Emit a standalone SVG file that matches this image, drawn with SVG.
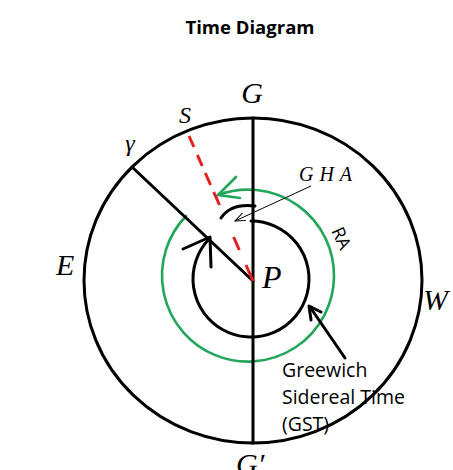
<svg xmlns="http://www.w3.org/2000/svg" width="453" height="470" viewBox="0 0 453 470">
<style>
.serif{font-family:"Liberation Serif","Times New Roman",serif;font-style:italic;fill:#000}
.sans{font-family:"Open Sans","Liberation Sans",sans-serif;fill:#000}
.blk{fill:none;stroke:#000;stroke-width:3;stroke-linecap:round;stroke-linejoin:round}
.grn{fill:none;stroke:#22a65a;stroke-width:2.6;stroke-linecap:round;stroke-linejoin:round}
.red{fill:none;stroke:#e3201c;stroke-width:3}
</style>
<defs>
<marker id="thin" markerUnits="userSpaceOnUse" markerWidth="12" markerHeight="10" refX="10" refY="4" orient="auto">
<path d="M0,0 L10,4 L0,8" fill="none" stroke="#000" stroke-width="1"/>
</marker>
</defs>
<rect width="453" height="470" fill="#fff"/>
<text class="sans" x="250" y="34" font-size="18.5" font-weight="bold" text-anchor="middle">Time Diagram</text>

<g id="outer-circle"><ellipse cx="253" cy="280.5" rx="169" ry="162.5" class="blk"/></g>
<g id="green-circle">
<path class="grn" d="M186,216 A86,86 0 1 0 218,195"/>
<polyline class="grn" points="236,177 218,195 240,198"/>
</g>
<g id="inner-circle">
<path class="blk" d="M251,221 A58,58 0 1 1 209,239"/>
<polyline class="blk" points="183,249 210,237 211,267"/>
</g>
<g id="connectors">
<line class="blk" x1="253" y1="118" x2="253" y2="443"/>
<line class="blk" stroke-width="2.6" x1="132" y1="167" x2="253" y2="281"/>
<path class="red" d="M189,136 L193.9,147 M197.4,155 L202.2,166 M205.3,173 L210.6,185 M213.7,192 L219.5,205 M233.6,237 L239.3,250 M246,265 L253,281"/>
<path class="blk" stroke-width="2.6" d="M221,218 Q231,203 255,206"/>
<line x1="311" y1="186" x2="235" y2="221" stroke="#000" stroke-width="1" marker-end="url(#thin)"/>
<line class="blk" x1="345" y1="358" x2="310" y2="307"/>
<polyline class="blk" points="311,320 309,306 321,312"/>
</g>
<g id="labels">
<text class="serif" x="252" y="103" font-size="30" text-anchor="middle">G</text>
<text class="serif" x="185" y="123" font-size="24" text-anchor="middle">S</text>
<text class="serif" x="130" y="151" font-size="24" text-anchor="middle">γ</text>
<text class="serif" x="56" y="275" font-size="30">E</text>
<text class="serif" x="262" y="288" font-size="32">P</text>
<text class="serif" x="423" y="310" font-size="30">W</text>
<text class="serif" x="236" y="474" font-size="30">G′</text>
<text class="serif" x="299" y="181" font-size="20" textLength="53">G H A</text>
<text class="sans" font-size="18" text-anchor="middle" dominant-baseline="central" transform="translate(342,238) rotate(65)">RA</text>
<text class="sans" font-size="19.5"><tspan x="282" y="377">Greewich</tspan><tspan x="282" y="404">Sidereal Time</tspan><tspan x="282" y="431">(GST)</tspan></text>
</g>
</svg>
